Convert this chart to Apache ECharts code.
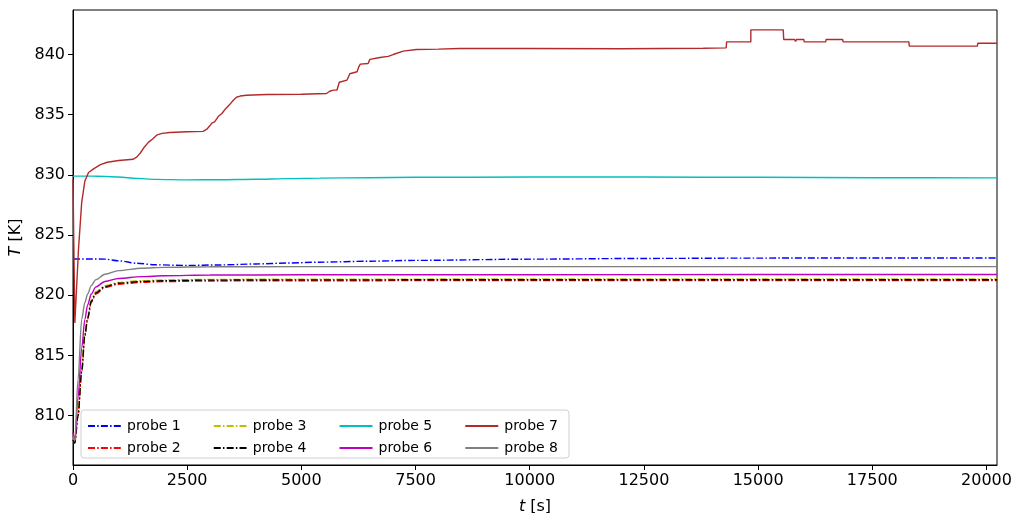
<!DOCTYPE html>
<html>
<head>
<meta charset="utf-8">
<script src="https://cdn.jsdelivr.net/npm/echarts@6/dist/echarts.min.js"></script>
<style>
  html, body { margin: 0; padding: 0; background: #fff; }
  #chart { width: 1016px; height: 513px; }
</style>
</head>
<body>
<div id="chart"></div>
<script>
// Probe temperatures T [K] against time t [s]
const xTicks = [0, 2500, 5000, 7500, 10000, 12500, 15000, 17500, 20000];
const yTicks = [810, 815, 820, 825, 830, 835, 840];

// probe 1 and probe 5: start near their set point, dip slightly, recover
const tSlow = [0, 400, 700, 1000, 1400, 1800, 2500, 3200, 4000, 4700, 5400, 6500, 7500, 10000, 12500, 15000, 17500, 20230];
const probe1 = [823.02, 823.02, 823.0, 822.86, 822.66, 822.53, 822.48, 822.52, 822.6, 822.68, 822.75, 822.83, 822.9, 823.0, 823.06, 823.09, 823.1, 823.1];
const probe5 = [829.9, 829.9, 829.88, 829.82, 829.71, 829.63, 829.59, 829.6, 829.64, 829.69, 829.73, 829.77, 829.8, 829.82, 829.82, 829.8, 829.77, 829.75];

// probes 2, 3, 4, 6, 8: fast warm-up from the initial dip
const tRise = [0, 40, 110, 190, 260, 320, 400, 500, 700, 1000, 1500, 2000, 3000, 5000, 10000, 15000, 20230];
const probe2 = [808.0, 807.7, 810.0, 813.6, 816.6, 818.0, 819.4, 820.1, 820.65, 820.92, 821.07, 821.14, 821.19, 821.21, 821.22, 821.22, 821.22];
const probe3 = [808.1, 807.8, 810.1, 813.8, 816.8, 818.2, 819.6, 820.3, 820.8, 821.07, 821.22, 821.28, 821.32, 821.34, 821.35, 821.35, 821.35];
const probe4 = [808.0, 807.75, 810.0, 813.7, 816.7, 818.1, 819.5, 820.2, 820.72, 821.0, 821.15, 821.21, 821.26, 821.28, 821.29, 821.29, 821.29];
const probe6 = [808.6, 808.0, 811.5, 815.6, 818.0, 819.2, 820.1, 820.7, 821.15, 821.4, 821.55, 821.62, 821.68, 821.7, 821.71, 821.72, 821.72];
const probe8 = [808.3, 807.9, 813.0, 818.0, 819.4, 820.1, 820.8, 821.3, 821.75, 822.05, 822.25, 822.32, 822.37, 822.38, 822.38, 822.38, 822.38];

// probe 7: sharp dip, staged heating, then controller steps
const t7 = [0, 40, 120, 190, 260, 340, 450, 600, 750, 1000, 1320, 1400, 1470, 1560, 1650, 1750, 1830, 1950, 2120, 2500, 2850,
  2930, 3000, 3040, 3100, 3180, 3260, 3330, 3420, 3510, 3580, 3660, 3800, 4240, 5000, 5550, 5620, 5700, 5780, 5830, 5850,
  6000, 6060, 6100, 6220, 6260, 6290, 6460, 6500, 6540, 6720, 6900, 7010, 7230, 7520, 8000, 8470, 10000, 12000, 13800,
  14300, 14310, 14840, 14841, 15550, 15560, 15800, 15820, 15840, 16000, 16010, 16480, 16490, 16850, 16860, 18300, 18310,
  19800, 19810, 20230];
const probe7 = [829.6, 817.7, 823.8, 827.7, 829.5, 830.2, 830.5, 830.85, 831.05, 831.2, 831.3, 831.5, 831.8, 832.3, 832.7, 833.0, 833.3, 833.45, 833.52, 833.58, 833.62,
  833.8, 834.1, 834.3, 834.4, 834.85, 835.1, 835.45, 835.8, 836.2, 836.45, 836.55, 836.62, 836.68, 836.7, 836.76, 836.95, 837.04, 837.05, 837.7, 837.85,
  837.88, 838.4, 838.55, 838.57, 839.0, 839.2, 839.25, 839.6, 839.65, 839.75, 839.85, 840.0, 840.28, 840.42, 840.45, 840.5, 840.5, 840.48, 840.52,
  840.55, 841.05, 841.05, 842.05, 842.05, 841.25, 841.25, 841.08, 841.25, 841.25, 841.05, 841.05, 841.25, 841.25, 841.05, 841.05, 840.7,
  840.7, 840.94, 840.94];

const pairs = (t, v) => t.map((x, i) => [x, v[i]]);
const dashDot = [7, 2.2, 1.5, 2.2];

const defs = [
  { name: 'probe 1', t: tSlow, v: probe1, color: '#0000ff', dash: dashDot },
  { name: 'probe 2', t: tRise, v: probe2, color: '#ff0000', dash: dashDot },
  { name: 'probe 3', t: tRise, v: probe3, color: '#bfbf00', dash: dashDot },
  { name: 'probe 4', t: tRise, v: probe4, color: '#000000', dash: dashDot },
  { name: 'probe 5', t: tSlow, v: probe5, color: '#00bfbf', dash: 'solid' },
  { name: 'probe 6', t: tRise, v: probe6, color: '#bf00bf', dash: 'solid' },
  { name: 'probe 7', t: t7, v: probe7, color: '#b22a2a', dash: 'solid' },
  { name: 'probe 8', t: tRise, v: probe8, color: '#808080', dash: 'solid' }
];

const font = 'DejaVu Sans';
function legendRow(top, names) {
  return {
    orient: 'horizontal',
    left: 82,
    top: top,
    itemWidth: 33,
    itemHeight: 14,
    itemGap: 32,
    itemStyle: { opacity: 0 },
    textStyle: { fontFamily: font, fontSize: 14, color: '#000', padding: [0, 0, 0, 1] },
    selectedMode: false,
    z: 6,
    data: names
  };
}

const chart = echarts.init(document.getElementById('chart'), null, { renderer: 'canvas' });
chart.setOption({
  animation: false,
  backgroundColor: '#fff',
  textStyle: { fontFamily: font },
  grid: {
    left: 73, right: 19, top: 10, bottom: 48,
    outerBoundsMode: 'none', containLabel: false,
    show: true, borderColor: '#000', borderWidth: 1, backgroundColor: 'transparent'
  },
  legend: [
    legendRow(414, ['probe 1', 'probe 3', 'probe 5', 'probe 7']),
    legendRow(436, ['probe 2', 'probe 4', 'probe 6', 'probe 8'])
  ],
  graphic: [{
    type: 'rect', z: 5, silent: true,
    shape: { x: 81, y: 410, width: 488, height: 48, r: 3 },
    style: { fill: 'rgba(255,255,255,0.8)', stroke: '#d0d0d0', lineWidth: 1 }
  }],
  xAxis: {
    type: 'value', min: 0, max: 20230,
    name: '{i|t} [s]', nameLocation: 'middle', nameGap: 34,
    nameTextStyle: { fontFamily: font, fontSize: 16, color: '#000', rich: { i: { fontStyle: 'italic', fontFamily: font, fontSize: 16 } } },
    axisLine: { show: true, lineStyle: { color: '#000', width: 1 } },
    axisTick: { show: true, inside: false, length: 5, customValues: xTicks, lineStyle: { color: '#000' } },
    axisLabel: { customValues: xTicks, formatter: v => String(v), fontFamily: font, fontSize: 16, color: '#000', margin: 8 },
    splitLine: { show: false }
  },
  yAxis: {
    type: 'value', min: 805.9, max: 843.7,
    name: '{i|T} [K]', nameLocation: 'middle', nameGap: 43, nameRotate: 90,
    nameTextStyle: { fontFamily: font, fontSize: 16, color: '#000', rich: { i: { fontStyle: 'italic', fontFamily: font, fontSize: 16 } } },
    axisLine: { show: true, lineStyle: { color: '#000', width: 1 } },
    axisTick: { show: true, inside: false, length: 5, customValues: yTicks, lineStyle: { color: '#000' } },
    axisLabel: { customValues: yTicks, formatter: v => String(v), fontFamily: font, fontSize: 16, color: '#000', margin: 8 },
    splitLine: { show: false }
  },
  series: defs.map(d => ({
    name: d.name,
    type: 'line',
    data: pairs(d.t, d.v),
    showSymbol: false,
    symbol: 'none',
    smooth: d.name === 'probe 7' ? false : 0.3,
    smoothMonotone: 'x',
    color: d.color,
    lineStyle: { color: d.color, width: 1.4, type: d.dash },
    clip: true
  }))
});
</script>
</body>
</html>
